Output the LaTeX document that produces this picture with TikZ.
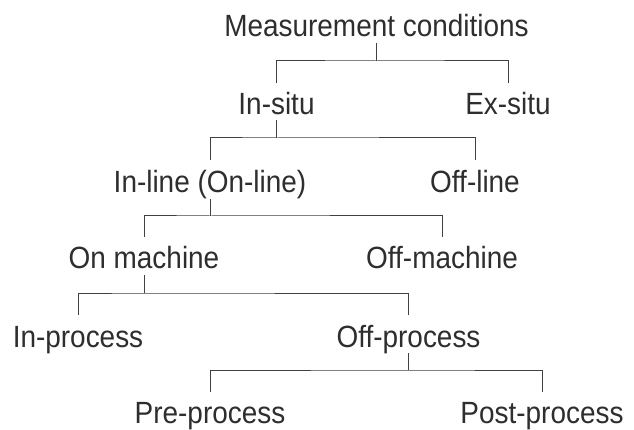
\documentclass[tikz,border=0pt]{standalone}
\usepackage{fontspec}
\setmainfont{Liberation Sans}[FakeStretch=0.91]
\definecolor{txt}{HTML}{2E2E2E}
\definecolor{ln}{HTML}{404040}
\begin{document}
\begin{tikzpicture}[x=1pt,y=-1pt,
  lbl/.style={anchor=base,inner sep=0pt,text=txt,font=\fontsize{30.7}{36}\selectfont},
  conn/.style={draw=ln,line width=1pt}]
\useasboundingbox[fill=white] (0,0) rectangle (634,430);
\node[lbl] (mc) at (376.5,37) {Measurement conditions};
\node[lbl] (insitu) at (276.5,115) {In-situ};
\node[lbl] (exsitu) at (508,115) {Ex-situ};
\node[lbl] (inline) at (210,193) {In-line (On-line)};
\node[lbl] (offline) at (475,193) {Off-line};
\node[lbl] (onm) at (144,269) {On machine};
\node[lbl] (offm) at (442,269) {Off-machine};
\node[lbl] (inp) at (78,347) {In-process};
\node[lbl] (offp) at (408.5,347) {Off-process};
\node[lbl] (pre) at (210,423) {Pre-process};
\node[lbl] (post) at (542,423) {Post-process};
% level 1
\draw[conn] ([yshift=-6pt]mc.base) -- ([yshift=-24pt]mc.base);
\draw[conn] ([yshift=32pt]insitu.base) |- ([yshift=-24pt]mc.base) -| ([yshift=32pt]exsitu.base);
% level 2
\draw[conn] ([yshift=-5pt]insitu.base) -- ([yshift=-23pt]insitu.base);
\draw[conn] ([yshift=33pt]inline.base) |- ([yshift=-23pt]insitu.base) -| ([yshift=33pt]offline.base);
% level 3
\draw[conn] ([yshift=-6pt]inline.base) -- ([yshift=-23pt]inline.base);
\draw[conn] ([yshift=32pt]onm.base) |- ([yshift=-23pt]inline.base) -| ([yshift=32pt]offm.base);
% level 4
\draw[conn] ([yshift=-6pt]onm.base) -- ([yshift=-24pt]onm.base);
\draw[conn] ([yshift=32pt]inp.base) |- ([yshift=-24pt]onm.base) -| ([yshift=32pt]offp.base);
% level 5
\draw[conn] ([yshift=-6pt]offp.base) -- ([yshift=-23pt]offp.base);
\draw[conn] ([yshift=31pt]pre.base) |- ([yshift=-23pt]offp.base) -| ([yshift=31pt]post.base);
\end{tikzpicture}
\end{document}
